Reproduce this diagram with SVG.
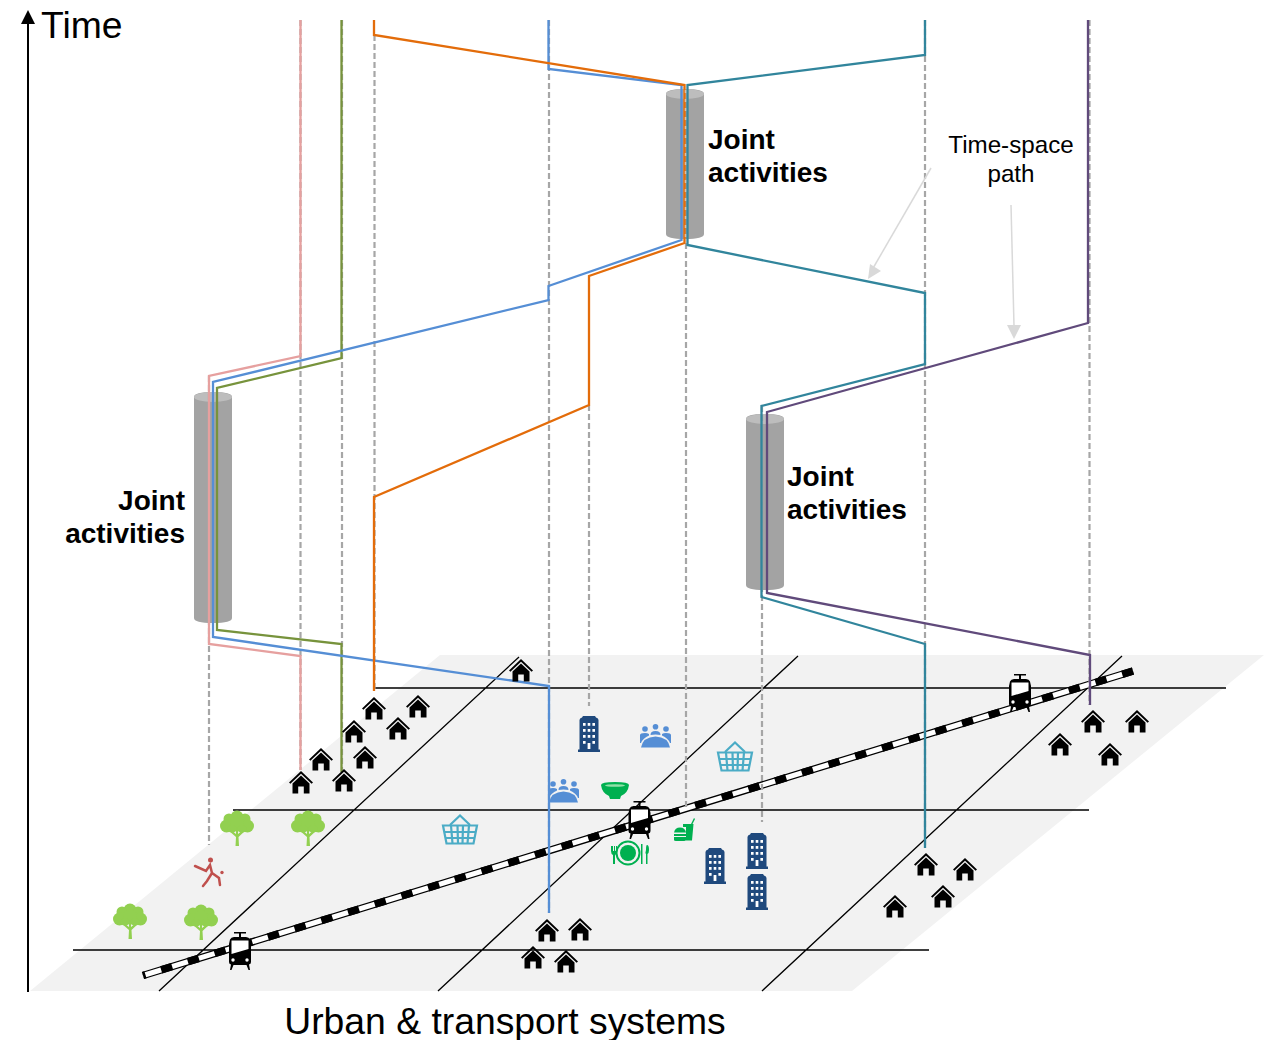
<svg xmlns="http://www.w3.org/2000/svg" width="1271" height="1040" viewBox="0 0 1271 1040">
<style>
text{font-family:"Liberation Sans",Arial,sans-serif;fill:#000}
.big{font-size:37.300px}.bold{font-size:28px;font-weight:bold}.small{font-size:24.200px}
.grid{fill:none;stroke:#000;stroke-width:1.300}
.dash{fill:none;stroke:#a6a6a6;stroke-width:2.200;stroke-dasharray:6 3}
.p{fill:none;stroke-width:2.300;stroke-linejoin:miter}
.ann{fill:none;stroke:#d9d9d9;stroke-width:1.500}
</style>
<defs>
<symbol id="house" viewBox="0 0 24 24" overflow="visible">
<path d="M0 11.500L12 0L24 11.500L22.600 12.800L12 2.800L1.400 12.800Z" fill="#000"/>
<path d="M3.500 12.500L12 4.500L20.500 12.500V22.500H14.800V15.500H9.200V22.500H3.500Z" fill="#000"/>
</symbol>
<symbol id="bld" viewBox="0 0 22 36" overflow="visible">
<path d="M1.500 33.500V4Q1.500 2 4 1.500L5 0H17L18 1.500Q20.500 2 20.500 4V33.500H22V36H0V33.500Z" fill="#1f497d"/>
<g fill="#fff"><rect x="5" y="7" width="2.600" height="2.800"/><rect x="9.700" y="7" width="2.600" height="2.800"/><rect x="14.400" y="7" width="2.600" height="2.800"/><rect x="5" y="13" width="2.600" height="2.800"/><rect x="9.700" y="13" width="2.600" height="2.800"/><rect x="14.400" y="13" width="2.600" height="2.800"/><rect x="5" y="19" width="2.600" height="2.800"/><rect x="9.700" y="19" width="2.600" height="2.800"/><rect x="14.400" y="19" width="2.600" height="2.800"/><rect x="5" y="25" width="2.600" height="2.800"/><rect x="14.400" y="25" width="2.600" height="2.800"/><rect x="9.600" y="27" width="2.800" height="6"/></g>
</symbol>
<symbol id="tree" viewBox="0 0 34 36" overflow="visible">
<path d="M15.500 36L16 27L8 20L10 19L16 24V17H18V24L24 19L26 20L18.500 27L19 36Z" fill="#92d050"/>
<g fill="#92d050"><circle cx="17" cy="7" r="6.500"/><circle cx="9" cy="9" r="5.500"/><circle cx="25" cy="9" r="5.500"/><circle cx="6.500" cy="16" r="6.500"/><circle cx="27.500" cy="16" r="6.500"/><circle cx="17" cy="13" r="7"/><ellipse cx="12" cy="19" rx="5" ry="3.500"/><ellipse cx="22" cy="19" rx="5" ry="3.500"/></g>
</symbol>
<symbol id="tram" viewBox="0 0 24 40" overflow="visible">
<path d="M6 1H18V2.500H13V6H18Q21 6 22 8.500L23 13V31Q23 33 21 33.500L22 39H20.500L18.500 34H5.500L3.500 39H2L3 33.500Q1 33 1 31V13L2 8.500Q3 6 6 6H11V2.500H6Z" fill="#000"/>
<path d="M3.500 9.500H20.500V18L3.500 23Z" fill="#fff"/>
<circle cx="5" cy="29" r="1.700" fill="#fff"/><circle cx="19" cy="29" r="1.700" fill="#fff"/>
</symbol>
<symbol id="basket" viewBox="0 0 36 31" overflow="visible">
<g fill="none" stroke="#4bacc6" stroke-width="2.200"><path d="M8 11L18 1.500L28 11"/><path d="M1 11.500H35L31.500 29.500H4.500Z"/><path d="M2.500 18H33.500M3.500 24H32.500M9 11.500L10.500 29.500M15.500 11.500L16 29.500M21 11.500L20.500 29.500M27 11.500L25.500 29.500"/></g>
</symbol>
<symbol id="people" viewBox="0 0 31 24" overflow="visible">
<g fill="#558ed5"><circle cx="5" cy="5" r="2.800"/><circle cx="15.500" cy="2.800" r="2.800"/><circle cx="26" cy="5" r="2.800"/>
<path d="M0 19V11Q0 9 5 9Q7.500 9 9 10V11.500Q3 14 1 19ZM31 19V11Q31 9 26 9Q23.500 9 22 10V11.500Q28 14 30 19ZM10.500 11Q10.500 7 15.500 7Q20.500 7 20.500 11Q15.500 10 10.500 11Z"/>
<path d="M1 23.500Q3 13 15.500 12.500Q28 13 30 23.500Z"/></g>
</symbol>
</defs>
<g id="plane"><polygon points="440,655 1264,655 852,991 30,991" fill="#f2f2f2"/></g>
<g id="grid">
<path class="grid" d="M374 688H1226M233 810H1089M73 950H929M159 991L519 657M438 991L798 656M762 991L1122 656"/>
</g>
<g id="rail">
<line x1="143" y1="975.500" x2="1133" y2="671" stroke="#000" stroke-width="7.500"/>
<line x1="143" y1="975.500" x2="1133" y2="671" stroke="#fff" stroke-width="5"/>
<line x1="143" y1="975.500" x2="1133" y2="671" stroke="#000" stroke-width="7.500" stroke-dasharray="11.500 16.430" stroke-dashoffset="-19"/>
</g>
<g id="axis" fill="none"><path d="M28 992V18" stroke="#000" stroke-width="2"/><polygon points="28,10 35,24 21,24" fill="#000"/></g>
<g id="cylinder-top"><path d="M666 94Q666 89 685 89Q704 89 704 94V234Q704 239 685 239Q666 239 666 234Z" fill="#a3a3a3"/><ellipse cx="685" cy="94" rx="19" ry="5" fill="#bdbdbd"/></g>
<g id="cylinder-left"><path d="M194 397Q194 392 213 392Q232 392 232 397V618Q232 623 213 623Q194 623 194 618Z" fill="#a3a3a3"/><ellipse cx="213" cy="397" rx="19" ry="5" fill="#bdbdbd"/></g>
<g id="cylinder-right"><path d="M746 419Q746 414 765 414Q784 414 784 419V585Q784 590 765 590Q746 590 746 585Z" fill="#a3a3a3"/><ellipse cx="765" cy="419" rx="19" ry="5" fill="#bdbdbd"/></g>
<g id="connectors">
<g id="dashes">
<path class="dash" d="M209 376V845M300.500 20V770M342 20V770M374.500 35V690M549 20V913M589 405V706M686 243V810M762 406V822M925 20V848M1089.500 20V705"/>
</g>
<path class="p" stroke="#e6a09f" d="M300.500 20V356L209 376V644L300.500 656V770"/>
<path class="p" stroke="#77933c" d="M341.500 20V358L217 388V630L341.500 644V772"/>
<path class="p" stroke="#558ed5" d="M548.500 20V69L681.500 85V240L548.500 286V300L213 382V637L549 686V913"/>
<path class="p" stroke="#e36c0a" d="M374 20V35L684.500 85V243L589 276V405L374 497V691"/>
<path class="p" stroke="#31859c" d="M925 20V55L687.500 85V245L925 293V364L761.500 406V597L925 644V848"/>
<path class="p" stroke="#604a7b" d="M1088 20V323L767 412V593L1090 655V705"/>
<path d="M685.500 90V240" fill="none" stroke="#d9c0a8" stroke-width="1.500" stroke-dasharray="3 6"/>
<path class="ann" d="M931 168L872 270"/><polygon points="868,279 870,264 881,271" fill="#d9d9d9"/>
<path class="ann" d="M1011 205L1014 326"/><polygon points="1014,339 1007,325 1021,325" fill="#d9d9d9"/>
</g>
<g id="labels">
<text class="big" x="41" y="38">Time</text>
<text class="big" x="505" y="1034" text-anchor="middle">Urban &amp; transport systems</text>
<text class="bold" x="708" y="149">Joint</text><text class="bold" x="708" y="182">activities</text>
<text class="bold" x="185" y="510" text-anchor="end">Joint</text><text class="bold" x="185" y="543" text-anchor="end">activities</text>
<text class="bold" x="787" y="486">Joint</text><text class="bold" x="787" y="519">activities</text>
<text class="small" x="1011" y="153" text-anchor="middle">Time-space</text><text class="small" x="1011" y="182" text-anchor="middle">path</text>
</g>
<g id="houses">
<use href="#house" x="509" y="659" width="24" height="24"/>
<use href="#house" x="362" y="697" width="24" height="24"/>
<use href="#house" x="406" y="695" width="24" height="24"/>
<use href="#house" x="342" y="720" width="24" height="24"/>
<use href="#house" x="386" y="717" width="24" height="24"/>
<use href="#house" x="309" y="748" width="24" height="24"/>
<use href="#house" x="353" y="746" width="24" height="24"/>
<use href="#house" x="289" y="771" width="24" height="24"/>
<use href="#house" x="332" y="769" width="24" height="24"/>
<use href="#house" x="1081" y="710" width="24" height="24"/>
<use href="#house" x="1125" y="710" width="24" height="24"/>
<use href="#house" x="1048" y="733" width="24" height="24"/>
<use href="#house" x="1098" y="743" width="24" height="24"/>
<use href="#house" x="914" y="853" width="24" height="24"/>
<use href="#house" x="953" y="858" width="24" height="24"/>
<use href="#house" x="931" y="885" width="24" height="24"/>
<use href="#house" x="883" y="895" width="24" height="24"/>
<use href="#house" x="535" y="919" width="24" height="24"/>
<use href="#house" x="568" y="918" width="24" height="24"/>
<use href="#house" x="521" y="946" width="24" height="24"/>
<use href="#house" x="554" y="950" width="24" height="24"/>
</g>
<g id="buildings">
<use href="#bld" x="578" y="716" width="22" height="36"/>
<use href="#bld" x="704" y="848" width="22" height="36"/>
<use href="#bld" x="746" y="833" width="22" height="36"/>
<use href="#bld" x="746" y="874" width="22" height="36"/>
</g>
<g id="trees">
<use href="#tree" x="220" y="810" width="34" height="36"/>
<use href="#tree" x="291" y="810" width="34" height="36"/>
<use href="#tree" x="113" y="903" width="34" height="36"/>
<use href="#tree" x="184" y="904" width="34" height="36"/>
</g>
<g id="trams">
<use href="#tram" x="627.500" y="800" width="24" height="40"/>
<use href="#tram" x="228" y="931" width="24" height="40"/>
<use href="#tram" x="1008" y="673" width="24" height="40"/>
</g>
<g id="baskets">
<use href="#basket" x="717" y="741" width="36" height="31"/>
<use href="#basket" x="442" y="814" width="36" height="31"/>
</g>
<g id="people-icons">
<use href="#people" x="640" y="724" width="31" height="24"/>
<use href="#people" x="548" y="779" width="31" height="24"/>
</g>
<g id="food" fill="#00b050">
<path d="M601 785Q601 782 615 782Q629 782 629 785Q628 793 621 796L620 799H610L609 796Q602 793 601 785Z"/>
<ellipse cx="615" cy="785.500" rx="10" ry="1.300" fill="#92e0a8"/>
<circle cx="628" cy="853" r="11.500" fill="none" stroke="#00b050" stroke-width="2"/><circle cx="628" cy="853" r="8"/>
<path d="M611 846H613V851H614V846H615V851H616V846H617V851Q617 854 615 855V864H613V855Q611 854 611 851Z"/>
<rect x="641" y="844" width="1.500" height="20"/>
<path d="M646 850Q646 845 647 845Q649 845 649 850Q649 853 647.500 854V864H646V854Q645 853 646 850Z"/>
<path d="M683 824H693.500L692 840.500H686V827H683Z"/>
<path d="M691 824L694 818L695 819L692.500 824Z"/>
<path d="M674 832.500Q675 827.500 680 827.500Q685 827.500 686 832.500ZM674 834H686V836H674ZM674 837H686V840Q686 841 684 841H676Q674 841 674 840Z"/>
</g>
<g id="runner" fill="none" stroke="#c0504d" stroke-width="2.500" stroke-linecap="round">
<circle cx="210.500" cy="860" r="2.500" fill="#c0504d" stroke="none"/><circle cx="222" cy="872.500" r="1.700" fill="#c0504d" stroke="none"/>
<path d="M195 866L206 871L210 865L212 873L219 878L220 885M212 873L207 881L203 886"/>
</g>
</svg>
